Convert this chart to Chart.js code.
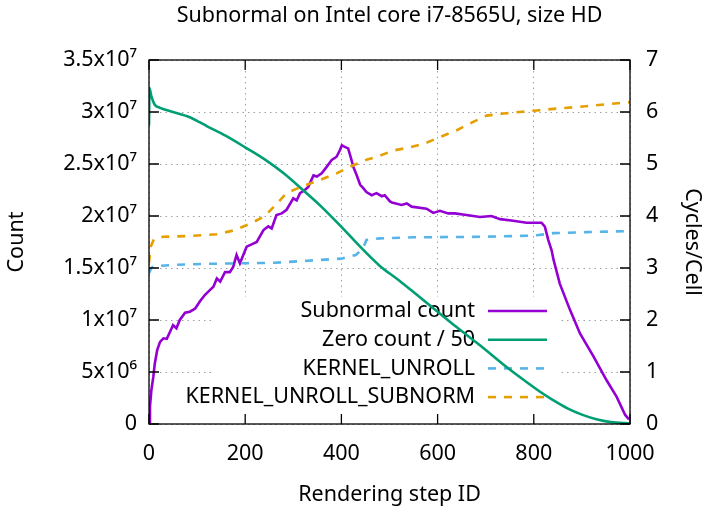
<!DOCTYPE html>
<html>
<head>
<meta charset="utf-8">
<script src="https://cdn.jsdelivr.net/npm/chart.js@4.4.0/dist/chart.umd.min.js"></script>
<style>
  body { margin: 0; background: #fff; }
  #wrap { width: 707px; height: 508px; }
</style>
</head>
<body>
<div id="wrap"><canvas id="grafico" width="707" height="508"></canvas></div>
<script>
// data

const subnormalSteps = [0, 2, 5, 9, 12, 17, 23, 30, 37, 44, 50, 57, 64, 75, 85, 96, 106, 116, 127, 134, 141, 148, 158, 168, 175, 182, 189, 203, 210, 224, 238, 248, 255, 265, 276, 286, 300, 307, 314, 324, 331, 342, 349, 359, 369, 380, 390, 397, 401, 407, 414, 419, 425, 432, 439, 445, 452, 463, 473, 484, 490, 501, 505, 525, 536, 546, 577, 591, 605, 622, 636, 660, 688, 712, 730, 757, 785, 816, 823, 830, 837, 841, 854, 875, 896, 924, 951, 972, 990, 998];
const subnormalCount = [0, 1.66e6, 3.27e6, 4.55e6, 5.8e6, 7.1e6, 7.9e6, 8.24e6, 8.2e6, 8.9e6, 9.5e6, 9.2e6, 10.0e6, 10.7e6, 10.8e6, 11.1e6, 11.8e6, 12.4e6, 12.9e6, 13.2e6, 14.0e6, 13.7e6, 14.6e6, 14.6e6, 15.1e6, 16.25e6, 15.45e6, 17.05e6, 17.2e6, 17.5e6, 18.65e6, 19.0e6, 18.8e6, 20.1e6, 20.25e6, 20.6e6, 21.7e6, 21.5e6, 22.2e6, 22.5e6, 22.8e6, 23.9e6, 23.8e6, 24.1e6, 24.7e6, 25.4e6, 25.7e6, 26.35e6, 26.8e6, 26.65e6, 26.5e6, 25.7e6, 24.7e6, 23.9e6, 23.0e6, 22.7e6, 22.3e6, 22.0e6, 22.2e6, 21.9e6, 22.0e6, 21.4e6, 21.3e6, 21.06e6, 21.2e6, 20.9e6, 20.7e6, 20.3e6, 20.5e6, 20.25e6, 20.25e6, 20.1e6, 19.9e6, 20.0e6, 19.7e6, 19.55e6, 19.35e6, 19.35e6, 18.97e6, 17.7e6, 16.7e6, 15.8e6, 13.5e6, 11.0e6, 8.7e6, 6.5e6, 4.23e6, 2.63e6, 0.87e6, 0.45e6];

const zeroSteps = [0, 1, 5, 12, 23, 50, 85, 106, 120, 160, 200, 245, 280, 320, 355, 397, 440, 480, 520, 560, 600, 640, 690, 740, 780, 813, 840, 870, 900, 930, 960, 1000];
const zeroCountDiv50 = [28.7e6, 32.3e6, 31.5e6, 30.7e6, 30.4e6, 30.0e6, 29.5e6, 29.0e6, 28.65e6, 27.7e6, 26.6e6, 25.3e6, 24.1e6, 22.5e6, 21.05e6, 19.1e6, 17.0e6, 15.2e6, 13.8e6, 12.3e6, 10.8e6, 9.3e6, 7.5e6, 5.6e6, 4.2e6, 3.1e6, 2.3e6, 1.5e6, 0.9e6, 0.45e6, 0.18e6, 0.05e6];

const unrollSteps = [0, 5, 9, 50, 120, 190, 260, 330, 400, 430, 445, 452, 480, 550, 690, 785, 806, 841, 910, 1000];
const unrollCycles = [2.9, 3.0, 3.03, 3.06, 3.08, 3.09, 3.10, 3.14, 3.18, 3.25, 3.38, 3.54, 3.57, 3.59, 3.6, 3.62, 3.63, 3.67, 3.69, 3.71];

const subnormSteps = [0, 3, 10, 30, 85, 141, 175, 210, 241, 265, 286, 321, 355, 390, 418, 452, 480, 508, 543, 577, 608, 640, 674, 702, 737, 771, 806, 841, 882, 917, 951, 990, 1000];
const subnormCycles = [3.1, 3.4, 3.55, 3.6, 3.615, 3.65, 3.72, 3.85, 4.0, 4.23, 4.44, 4.58, 4.69, 4.82, 4.95, 5.08, 5.16, 5.26, 5.32, 5.41, 5.53, 5.65, 5.81, 5.93, 5.97, 6.0, 6.03, 6.06, 6.09, 6.12, 6.15, 6.18, 6.19];

const countTickLabels = ['0', '5x10⁶', '1x10⁷', '1.5x10⁷', '2x10⁷', '2.5x10⁷', '3x10⁷', '3.5x10⁷'];
const seriesLabels = ['Subnormal count', 'Zero count / 50', 'KERNEL_UNROLL', 'KERNEL_UNROLL_SUBNORM'];
const seriesColors = ['#9400d3', '#009e73', '#56b4e9', '#e69f00'];

const FONT = "'Noto Sans', 'DejaVu Sans', sans-serif";
const FS = 21.5;

function pts(xs, ys) {
    return xs.map((x, i) => ({ x: x, y: ys[i] }));
}

// legend box like gnuplot (opaque, inside plot)
const keyBox = {
    id: 'keyBox',
    beforeDatasetsDraw(chart) {
        const ctx = chart.ctx;
        const a = chart.chartArea;
        ctx.save();
        ctx.fillStyle = '#fff';
        ctx.fillRect(a.left + 66, a.top + 237, 345, a.bottom - a.top - 237);
        ctx.font = FS + 'px ' + FONT;
        ctx.textAlign = 'right';
        ctx.textBaseline = 'middle';
        chart.data.datasets.forEach((ds, i) => {
            const y = a.top + 251 + i * 28.7;
            ctx.fillStyle = '#000';
            ctx.fillText(ds.label, a.left + 326, y);
            ctx.strokeStyle = ds.borderColor;
            ctx.lineWidth = ds.borderWidth;
            ctx.setLineDash(ds.borderDash || []);
            ctx.beginPath();
            ctx.moveTo(a.left + 339, y);
            ctx.lineTo(a.left + 398, y);
            ctx.stroke();
        });
        ctx.restore();
    }
};

// border and inward ticks
const frame = {
    id: 'frame',
    afterDatasetsDraw(chart) {
        const ctx = chart.ctx;
        const a = chart.chartArea;
        const len = 10;
        ctx.save();
        ctx.strokeStyle = '#000';
        ctx.lineWidth = 1.3;
        ctx.strokeRect(a.left, a.top, a.right - a.left, a.bottom - a.top);
        ctx.beginPath();
        chart.scales.x.ticks.forEach(t => {
            const px = chart.scales.x.getPixelForValue(t.value);
            ctx.moveTo(px, a.bottom); ctx.lineTo(px, a.bottom - len);
            ctx.moveTo(px, a.top); ctx.lineTo(px, a.top + len);
        });
        chart.scales.y.ticks.forEach(t => {
            const py = chart.scales.y.getPixelForValue(t.value);
            ctx.moveTo(a.left, py); ctx.lineTo(a.left + len, py);
        });
        chart.scales.y2.ticks.forEach(t => {
            const py = chart.scales.y2.getPixelForValue(t.value);
            ctx.moveTo(a.right, py); ctx.lineTo(a.right - len, py);
        });
        ctx.stroke();
        ctx.restore();
    }
};

const grafico = document.querySelector('#grafico').getContext('2d');

new Chart(grafico, {
    type: 'line',
    data: {
        datasets: [
            {
                label: seriesLabels[0],
                data: pts(subnormalSteps, subnormalCount),
                yAxisID: 'y',
                borderColor: seriesColors[0],
                borderWidth: 2.6,
                order: 3
            },
            {
                label: seriesLabels[1],
                data: pts(zeroSteps, zeroCountDiv50),
                yAxisID: 'y',
                borderColor: seriesColors[1],
                borderWidth: 2.6,
                cubicInterpolationMode: 'monotone',
                order: 2
            },
            {
                label: seriesLabels[2],
                data: pts(unrollSteps, unrollCycles),
                yAxisID: 'y2',
                borderColor: seriesColors[2],
                borderWidth: 2.6,
                borderDash: [8, 8],
                order: 1
            },
            {
                label: seriesLabels[3],
                data: pts(subnormSteps, subnormCycles),
                yAxisID: 'y2',
                borderColor: seriesColors[3],
                borderWidth: 2.6,
                borderDash: [8, 8],
                order: 0
            }
        ]
    },
    plugins: [keyBox, frame],
    options: {
        responsive: false,
        animation: false,
        devicePixelRatio: 1,
        layout: { padding: 0 },
        elements: {
            point: { radius: 0 },
            line: { tension: 0, fill: false, borderCapStyle: 'butt' }
        },
        plugins: {
            legend: { display: false },
            tooltip: { enabled: false },
            title: {
                display: true,
                fullSize: false,
                text: 'Subnormal on Intel core i7-8565U, size HD',
                color: '#000',
                font: { family: FONT, size: FS, weight: 'normal' },
                padding: { top: 3, bottom: 31.2 }
            }
        },
        scales: {
            x: {
                type: 'linear',
                min: 0,
                max: 1000,
                afterFit: s => { s.height = 84; },
                ticks: {
                    stepSize: 200,
                    color: '#000',
                    padding: 17,
                    maxRotation: 0,
                    font: { family: FONT, size: FS },
                    callback: v => String(v)
                },
                grid: { color: '#a0a0a0', lineWidth: 1, drawTicks: false },
                border: { display: false, dash: [1.5, 4] },
                title: { display: true, text: 'Rendering step ID', color: '#000', padding: 0, font: { family: FONT, size: FS } }
            },
            y: {
                position: 'left',
                min: 0,
                max: 3.5e7,
                afterFit: s => { s.width = 149; },
                ticks: {
                    stepSize: 5e6,
                    color: '#000',
                    padding: 12,
                    font: { family: FONT, size: FS },
                    callback: (v, i) => countTickLabels[i]
                },
                grid: { color: '#a0a0a0', lineWidth: 1, drawTicks: false },
                border: { display: false, dash: [1.5, 4] },
                title: { display: true, text: 'Count', color: '#000', padding: { top: 4, bottom: 0 }, font: { family: FONT, size: FS } }
            },
            y2: {
                position: 'right',
                min: 0,
                max: 7,
                afterFit: s => { s.width = 77; },
                ticks: { stepSize: 1, color: '#000', padding: 16, font: { family: FONT, size: FS } },
                grid: { display: false, drawTicks: false },
                border: { display: false },
                title: { display: true, text: 'Cycles/Cell', color: '#000', padding: { top: 2, bottom: 0 }, font: { family: FONT, size: FS } }
            }
        }
    }
});
</script>
</body>
</html>
